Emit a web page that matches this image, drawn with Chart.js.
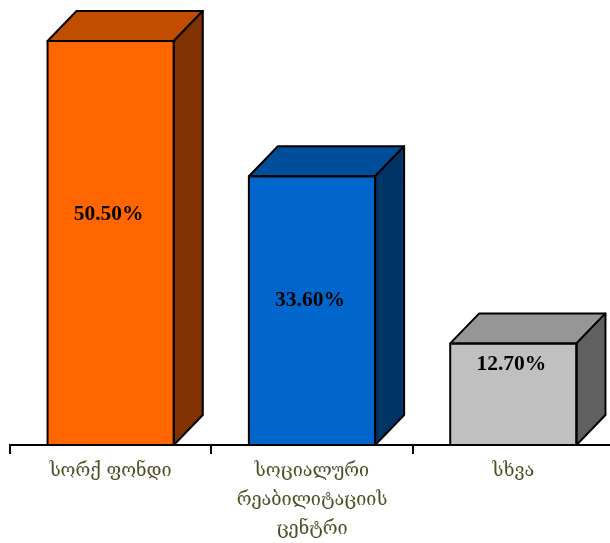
<!DOCTYPE html>
<html>
<head>
<meta charset="utf-8">
<script src="https://cdn.jsdelivr.net/npm/chart.js@4/dist/chart.umd.min.js"></script>
<style>
  html, body { margin: 0; padding: 0; background: #ffffff; overflow: hidden; }
  #wrap { width: 614px; height: 543px; }
</style>
</head>
<body>
<div id="wrap"><canvas id="c" width="614" height="543"></canvas></div>
<script>
// Category labels (multi-line where the label wraps)
const categories = [
  ['სორქ ფონდი'],
  ['სოციალური', 'რეაბილიტაციის', 'ცენტრი'],
  ['სხვა']
];
// Share of each category, percent
const shares = [50.5, 33.6, 12.7];

// Face colours for each box: front, top, side
const frontColors = ['#FF6600', '#0066CC', '#C0C0C0'];
const topColors   = ['#C04D00', '#004D99', '#969696'];
const sideColors  = ['#803300', '#003366', '#606060'];
// Vertical drop of each value label below the top of its box, px
const labelDrop = [173, 124, 21];

const DEPTH_X = 29, DEPTH_Y = 30;

// Draws the top and right faces of each bar so they read as boxes,
// then the value label on the front face.
const boxFaces = {
  id: 'boxFaces',
  afterDatasetsDraw(chart) {
    const ctx = chart.ctx;
    const meta = chart.getDatasetMeta(0);
    ctx.save();
    ctx.lineWidth = 2;
    ctx.lineJoin = 'round';
    ctx.strokeStyle = '#000000';
    meta.data.forEach((bar, i) => {
      const { x, y, base, width } = bar.getProps(['x', 'y', 'base', 'width'], true);
      const L = x - width / 2, R = x + width / 2;
      // top face
      ctx.beginPath();
      ctx.moveTo(L, y);
      ctx.lineTo(L + DEPTH_X, y - DEPTH_Y);
      ctx.lineTo(R + DEPTH_X, y - DEPTH_Y);
      ctx.lineTo(R, y);
      ctx.closePath();
      ctx.fillStyle = topColors[i];
      ctx.fill();
      ctx.stroke();
      // right face
      ctx.beginPath();
      ctx.moveTo(R, y);
      ctx.lineTo(R + DEPTH_X, y - DEPTH_Y);
      ctx.lineTo(R + DEPTH_X, base - DEPTH_Y);
      ctx.lineTo(R, base);
      ctx.closePath();
      ctx.fillStyle = sideColors[i];
      ctx.fill();
      ctx.stroke();
      // front outline
      ctx.strokeRect(L, y, width, base - y);
      // value label
      ctx.fillStyle = '#000000';
      ctx.font = 'bold 21.5px "Liberation Serif", "Times New Roman", serif';
      ctx.textAlign = 'center';
      ctx.textBaseline = 'middle';
      ctx.fillText(shares[i].toFixed(2) + '%', x - 2, y + labelDrop[i]);
    });
    ctx.restore();
  }
};

new Chart(document.getElementById('c'), {
  type: 'bar',
  data: {
    labels: categories,
    datasets: [{
      data: shares,
      backgroundColor: frontColors,
      borderColor: '#000000',
      borderWidth: 0,
      categoryPercentage: 1,
      barPercentage: 0.627
    }]
  },
  options: {
    responsive: false,
    animation: false,
    devicePixelRatio: 1,
    layout: { padding: { left: 10, right: 0, top: 5, bottom: 0 } },
    plugins: { legend: { display: false }, tooltip: { enabled: false } },
    scales: {
      y: { display: false, min: 0, max: 55 },
      x: {
        afterFit(scale) { scale.height = 98; },
        grid: {
          offset: true,
          drawOnChartArea: false,
          drawTicks: true,
          tickLength: 9,
          color: '#000000',
          lineWidth: 2
        },
        border: { display: true, color: '#000000', width: 2 },
        ticks: {
          padding: 3,
          color: '#4F4F26',
          font: { family: '"DejaVu Serif", serif', size: 18, lineHeight: 1.61 }
        }
      }
    }
  },
  plugins: [boxFaces]
});
</script>
</body>
</html>
